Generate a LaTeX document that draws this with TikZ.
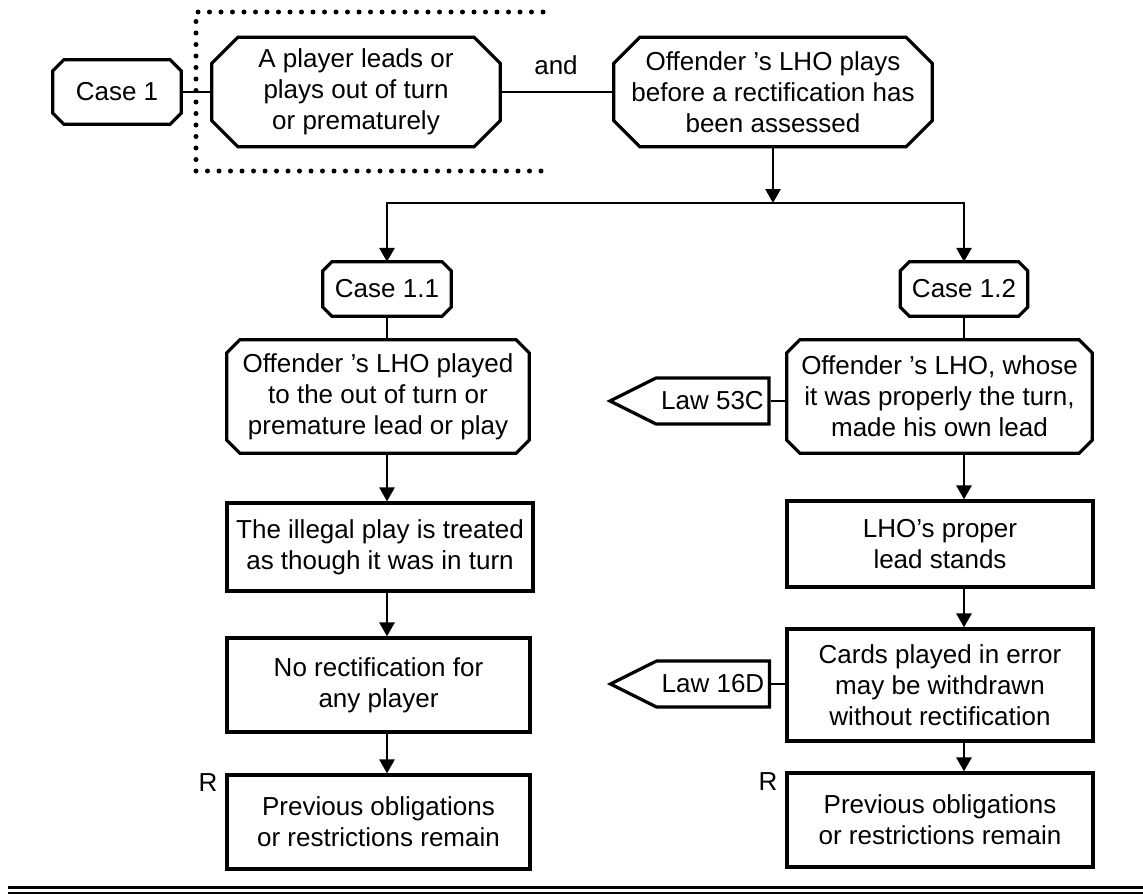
\documentclass[tikz,border=0pt]{standalone}
\usepackage{fontspec}
\setmainfont{Liberation Sans}
\usetikzlibrary{shapes.symbols,arrows.meta}
\begin{document}
\begin{tikzpicture}[x=1pt,y=-1pt,font=\fontsize{26}{31}\selectfont,
oct/.style={rectangle, align=center, inner sep=0pt, append after command={\pgfextra{\draw[line width=3.2pt] ([xshift=#1]\tikzlastnode.north west) -- ([xshift=-#1]\tikzlastnode.north east) -- ([yshift=-#1]\tikzlastnode.north east) -- ([yshift=#1]\tikzlastnode.south east) -- ([xshift=-#1]\tikzlastnode.south east) -- ([xshift=#1]\tikzlastnode.south west) -- ([yshift=#1]\tikzlastnode.south west) -- ([yshift=-#1]\tikzlastnode.north west) -- cycle;}}},
box/.style={rectangle, draw, line width=3.2pt, align=center, inner sep=0pt},
law/.style={signal, signal to=west, signal pointer angle=53, draw, line width=3.2pt, inner sep=0pt, minimum width=159pt, minimum height=46pt},
link/.style={line width=2.8pt},
flow/.style={line width=2.8pt, -{Triangle[length=14pt,width=15pt]}}]
\useasboundingbox (0,0) rectangle (1143,894);
\draw[line width=5pt, line cap=round, dash pattern=on 0pt off 11.5pt] (543,12) -- (196,12) -- (196,171) -- (543,171);
\node[oct=11pt, minimum width=128pt, minimum height=64pt] (case1) at (117,92){Case 1};
\node[oct=26pt, minimum width=288pt, minimum height=109pt] (lead) at (356,92){A player leads or\\plays out of turn\\or prematurely};
\node[oct=26pt, minimum width=318pt, minimum height=109pt] (lho) at (773,92){Offender ’s LHO plays\\before a rectification has\\been assessed};
\node[] (and) at (556,65){and};
\draw[link](case1) -- (lead);
\draw[link](lead) -- (lho);
\node[oct=9pt, minimum width=128pt, minimum height=54pt] (case11) at (387,289){Case 1.1};
\node[oct=9pt, minimum width=127pt, minimum height=54pt] (case12) at (964,289){Case 1.2};
\coordinate (fork) at (773,203);
\draw[flow](lho) -- (fork);
\draw[flow](fork) -| (case11);
\draw[flow](fork) -| (case12);
\node[oct=13pt, minimum width=302pt, minimum height=113pt] (played) at (378,396.5){Offender ’s LHO played\\to the out of turn or\\premature lead or play};
\node[oct=13pt, minimum width=305pt, minimum height=113pt] (whose) at (939.5,396.5){Offender ’s LHO, whose\\it was properly the turn,\\made his own lead};
\draw[link](case11) -- (case11 |- played.north);
\draw[link](case12) -- (case12 |- whose.north);
\node[law] (law53) at (712.5,401){Law 53C};
\draw[link](law53.east) -- (law53.east -| whose.west);
\node[box, minimum width=306pt, minimum height=88pt] (treated) at (380,547){The illegal play is treated\\as though it was in turn};
\node[box, minimum width=303pt, minimum height=94pt] (norect) at (378.5,685){No rectification for\\any player};
\node[box, minimum width=303pt, minimum height=94pt] (prevl) at (378.5,822){Previous obligations\\or restrictions remain};
\node[] (rl) at (208,783){R};
\draw[flow](played.south -| case11) -- (treated.north -| case11);
\draw[flow](treated.south -| case11) -- (norect.north -| case11);
\draw[flow](norect.south -| case11) -- (prevl.north -| case11);
\node[box, minimum width=306pt, minimum height=86pt] (stands) at (940,544){LHO’s proper\\lead stands};
\node[box, minimum width=306pt, minimum height=112pt] (cards) at (940,685){Cards played in error\\may be withdrawn\\without rectification};
\node[box, minimum width=306pt, minimum height=94pt] (prevr) at (940,820){Previous obligations\\or restrictions remain};
\node[] (rr) at (768,782){R};
\node[law] (law16) at (713,684){Law 16D};
\draw[link](law16.east) -- (law16.east -| cards.west);
\draw[flow](whose.south -| case12) -- (stands.north -| case12);
\draw[flow](stands.south -| case12) -- (cards.north -| case12);
\draw[flow](cards.south -| case12) -- (prevr.north -| case12);
\draw[line width=3pt] (8,887) -- (1143,887);
\draw[line width=1.5pt] (8,893) -- (1143,893);
\end{tikzpicture}
\end{document}
